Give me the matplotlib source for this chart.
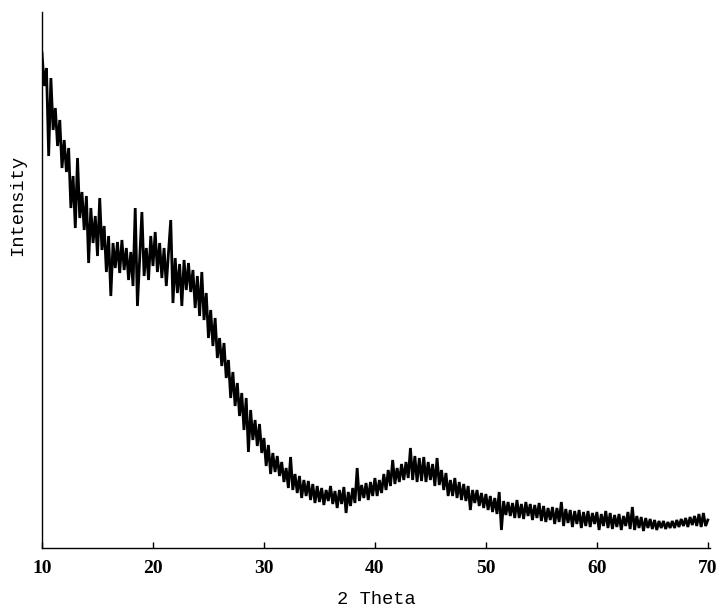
import matplotlib
matplotlib.use('Agg')
import matplotlib.pyplot as plt
import numpy as np

# XRD scan, 2-theta from 10 to 70 deg in 0.2 deg steps
two_theta = np.linspace(10, 70, 301)

intensity = [
    495, 462, 480, 392, 470,   # 10
    418, 440, 402, 428, 380,   # 11
    408, 376, 400, 340, 372,   # 12
    320, 390, 330, 356, 318,   # 13
    352, 285, 340, 305, 332,   # 14
    292, 350, 298, 322, 276,   # 15
    312, 252, 305, 280, 306,   # 16
    275, 308, 278, 300, 268,   # 17
    296, 262, 340, 242, 290,   # 18
    336, 272, 300, 268, 312,   # 19
    282, 316, 276, 305, 270,   # 20
    300, 262, 296, 328, 245,   # 21
    290, 255, 284, 242, 288,   # 22
    258, 285, 256, 278, 240,   # 23
    272, 232, 276, 228, 255,   # 24
    210, 238, 202, 230, 190,   # 25
    210, 182, 205, 170, 188,   # 26
    150, 176, 142, 165, 132,   # 27
    155, 118, 150, 96, 138,    # 28
    108, 128, 102, 124, 95,    # 29
    110, 82, 103, 74, 95,      # 30
    76, 92, 72, 86, 66,        # 31
    80, 60, 91, 58, 74,        # 32
    55, 72, 50, 68, 52,        # 33
    67, 48, 64, 45, 62,        # 34
    46, 60, 43, 58, 47,        # 35
    62, 44, 57, 40, 58,        # 36
    44, 61, 35, 56, 42,        # 37
    60, 45, 80, 47, 63,        # 38
    50, 65, 48, 66, 52,        # 39
    70, 52, 68, 55, 74,        # 40
    58, 78, 62, 88, 64,        # 41
    80, 66, 84, 68, 86,        # 42
    70, 100, 68, 92, 66,       # 43
    90, 67, 91, 66, 86,        # 44
    68, 84, 62, 90, 63,        # 45
    78, 58, 75, 52, 68,        # 46
    52, 70, 50, 66, 48,        # 47
    64, 47, 62, 38, 58,        # 48
    45, 58, 42, 55, 40,        # 49
    54, 38, 52, 36, 50,        # 50
    34, 56, 18, 47, 33,        # 51
    46, 32, 45, 30, 48,        # 52
    30, 44, 29, 46, 32,        # 53
    44, 28, 43, 30, 45,        # 54
    27, 42, 26, 40, 28,        # 55
    41, 24, 40, 26, 46,        # 56
    22, 39, 25, 38, 21,        # 57
    37, 24, 38, 20, 36,        # 58
    22, 37, 21, 35, 24,        # 59
    36, 18, 34, 22, 37,        # 60
    20, 35, 19, 33, 21,        # 61
    34, 18, 32, 22, 36,        # 62
    19, 41, 18, 32, 20,        # 63
    31, 17, 30, 20, 29,        # 64
    19, 28, 18, 27, 20,        # 65
    27, 19, 26, 20, 27,        # 66
    20, 28, 21, 29, 22,        # 67
    30, 21, 31, 23, 32,        # 68
    22, 34, 21, 35, 22,        # 69
    28,                        # 70
]

xticks = [10, 20, 30, 40, 50, 60, 70]

tick_font = {'family': 'Liberation Serif', 'weight': 'bold', 'size': 14}
label_font = {'family': 'Liberation Mono', 'weight': 'normal', 'size': 13.5}

fig = plt.figure(figsize=(7.17, 6.07), dpi=100)
ax = fig.add_axes([0.0586, 0.0972, 0.9317, 0.883])

ax.plot(two_theta, intensity, color='black', lw=2.0, solid_joinstyle='miter')

ax.set_xlim(10, 70.2)
ax.set_ylim(0, 536)

ax.spines['top'].set_visible(False)
ax.spines['right'].set_visible(False)
ax.spines['left'].set_linewidth(1.0)
ax.spines['bottom'].set_linewidth(1.0)

ax.set_yticks([])
ax.set_xticks(xticks)
ax.set_xticklabels([str(t) for t in xticks], fontdict=tick_font)
ax.tick_params(axis='x', direction='in', length=4, width=1, pad=9)

ax.set_xlabel('2 Theta', fontdict=label_font, va='center')
ax.xaxis.set_label_coords(0.5, -0.097)
ax.set_ylabel('Intensity', fontdict=label_font, va='center')
ax.yaxis.set_label_coords(-0.036, 0.64)

fig.savefig('out.png', dpi=100)
